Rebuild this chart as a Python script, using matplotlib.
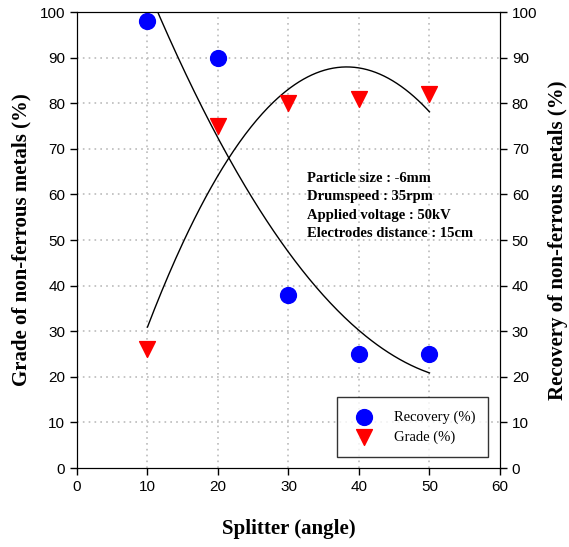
import numpy as np
import matplotlib
matplotlib.use("Agg")
import matplotlib.pyplot as plt

# data
splitter = [10, 20, 30, 40, 50]
recovery = [98, 90, 38, 25, 25]
grade = [26, 75, 80, 81, 82]

x_ticks = [0, 10, 20, 30, 40, 50, 60]
y_ticks = [0, 10, 20, 30, 40, 50, 60, 70, 80, 90, 100]

info_lines = [
    "Particle size : -6mm",
    "Drumspeed : 35rpm",
    "Applied voltage : 50kV",
    "Electrodes distance : 15cm",
]

tick_font = "Liberation Sans"
label_font = "Liberation Serif"

fig = plt.figure(figsize=(5.69, 5.47), dpi=100)
ax = fig.add_axes([0.1353, 0.1444, 0.7434, 0.8336])

# grid
for gx in x_ticks[1:-1]:
    ax.axvline(gx, color="#bbbbbb", ls=(0, (1, 2.5)), lw=1.2, zorder=0)
for gy in y_ticks[1:-1]:
    ax.axhline(gy, color="#bbbbbb", ls=(0, (1, 2.5)), lw=1.2, zorder=0)

# quadratic fits
xs = np.linspace(10, 50, 200)
rec_fit = np.polyval(np.polyfit(splitter, recovery, 2), xs)
gr_fit = np.polyval(np.polyfit(splitter, grade, 2), xs)
ax.plot(xs, rec_fit, color="black", lw=1, zorder=2)
ax.plot(xs, gr_fit, color="black", lw=1, zorder=2)

ax.scatter(splitter, recovery, s=130, c="blue", marker="o", zorder=3,
           label="Recovery (%)")
ax.scatter(splitter, grade, s=130, c="red", marker="v", zorder=3,
           label="Grade (%)")

ax.set_xlim(0, 60)
ax.set_ylim(0, 100)
ax.set_xticks(x_ticks)
ax.set_yticks(y_ticks)
ax.tick_params(direction="out", length=5, width=1, labelsize=11)
for lab in ax.get_xticklabels() + ax.get_yticklabels():
    lab.set_family(tick_font)

ax2 = ax.twinx()
ax2.set_ylim(0, 100)
ax2.set_yticks(y_ticks)
ax2.tick_params(direction="out", length=5, width=1, labelsize=11)
for lab in ax2.get_yticklabels():
    lab.set_family(tick_font)

ax.set_xlabel("Splitter (angle)", family=label_font, fontweight="bold",
              fontsize=15, labelpad=18)
ax.set_ylabel("Grade of non-ferrous metals (%)", family=label_font,
              fontweight="bold", fontsize=15, labelpad=6)
ax2.set_ylabel("Recovery of non-ferrous metals (%)", family=label_font,
               fontweight="bold", fontsize=15, labelpad=8, rotation=90)

ax.text(32.6, 65.0, "\n".join(info_lines), family=label_font,
        fontweight="bold", fontsize=10.5, va="top", ha="left",
        linespacing=1.55, zorder=4)

leg = ax.legend(loc="lower right", bbox_to_anchor=(0.972, 0.024),
                prop={"family": label_font, "size": 10.5},
                frameon=True, fancybox=False, edgecolor="black",
                borderpad=0.9, handletextpad=1.0, labelspacing=0.45,
                borderaxespad=0, handlelength=2.0)
leg.get_frame().set_linewidth(1)

fig.savefig("out.png", dpi=100)
